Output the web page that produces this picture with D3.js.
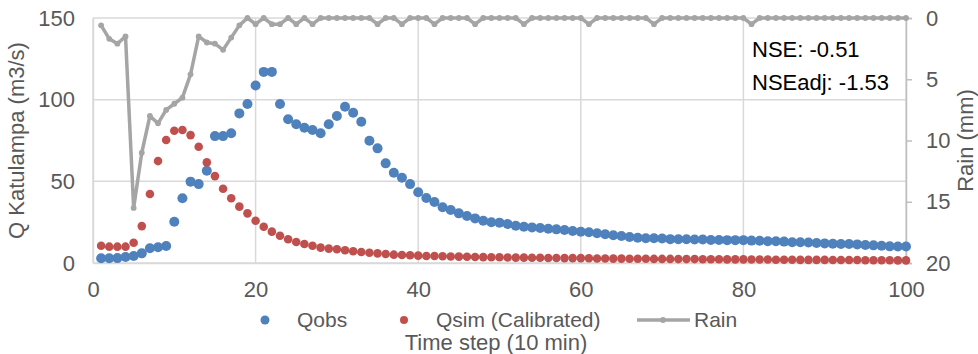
<!DOCTYPE html>
<html>
<head>
<meta charset="utf-8">
<script src="https://cdn.jsdelivr.net/npm/d3@7"></script>
<style>
  body { margin: 0; background: #fff; }
  text { font-family: "Liberation Sans", Arial, sans-serif; }
</style>
</head>
<body>
<div id="chart"></div>
<script>
let width = 978,
    height = 354;
let margin = {top: 18, right: 72, bottom: 91, left: 93};

// time steps (10 min)
let steps = d3.range(1, 101);

// observed discharge (m3/s)
let qobs = [2.9, 2.9, 3.0, 3.7, 4.3, 5.9, 9.0, 9.6, 10.4, 25.3,
    39.6, 49.8, 48.3, 56.5, 77.7, 77.7, 79.4, 91.6, 97.3, 108.7,
    117, 117, 97.3, 88, 84.9, 82.8, 81.4, 79.4, 84.9, 90,
    95.7, 92, 86.5, 74.9, 70.2, 61, 55.3, 52.2, 48.3, 43.3,
    39.8, 37.3, 34.1, 32.4, 30.4, 28.8, 27.3, 25.9, 24.9, 24.7,
    23.9, 22.8, 22.2, 21.8, 21.4, 21.0, 20.6, 20.2, 19.6, 19.2,
    18.8, 18.2, 17.6, 17.0, 16.5, 15.9, 15.5, 15.1, 15.1, 15.0,
    14.6, 14.5, 14.5, 14.4, 14.4, 14.1, 14.1, 14.0, 14.0, 14.0,
    13.7, 13.6, 13.3, 13.3, 13.1, 12.7, 12.7, 12.5, 12.2, 12.0,
    11.8, 11.6, 11.6, 11.4, 11.0, 10.8, 10.6, 10.2, 10.1, 10.1];

// simulated discharge, calibrated (m3/s)
let qsim = [10.6, 10, 10, 10, 12.4, 22.6, 42.2, 62.4, 75.3, 81,
    81.4, 78.3, 71.2, 61.6, 53.2, 45.5, 39.6, 34.5, 30.4, 25.9,
    22.2, 19.2, 16.7, 14.5, 12.9, 11.6, 10.6, 9.4, 8.8, 8.4,
    7.8, 7.2, 6.7, 6.3, 5.9, 5.5, 5.1, 4.9, 4.7, 4.5,
    4.3, 4.3, 4.1, 4.0, 3.9, 3.8, 3.7, 3.6, 3.5, 3.5,
    3.4, 3.3, 3.3, 3.2, 3.2, 3.1, 3.1, 3.0, 3.0, 3.0,
    2.9, 2.8, 2.8, 2.7, 2.7, 2.6, 2.6, 2.6, 2.5, 2.5,
    2.5, 2.4, 2.4, 2.4, 2.3, 2.3, 2.3, 2.2, 2.2, 2.2,
    2.1, 2.1, 2.1, 2.0, 2.0, 2.0, 1.9, 1.9, 1.9, 1.9,
    1.8, 1.8, 1.8, 1.8, 1.7, 1.7, 1.7, 1.7, 1.6, 1.6];

// rain (mm), secondary axis reversed
let rain = [0.6, 1.7, 2.1, 1.5, 15.5, 11.0, 8.0, 8.6, 7.5, 7.0,
    6.5, 4.6, 1.5, 2.0, 2.1, 2.6, 1.6, 0.6, 0, 0.5,
    0, 0.5, 0.5, 0, 0.5, 0, 0.5, 0, 0, 0,
    0, 0, 0, 0, 0.5, 0, 0, 0.5, 0, 0,
    0, 0.5, 0, 0, 0, 0, 0.5, 0, 0, 0,
    0, 0, 0.5, 0, 0, 0, 0, 0, 0, 0,
    0.5, 0, 0, 0, 0, 0, 0, 0, 0.5, 0,
    0, 0, 0, 0, 0, 0, 0, 0, 0, 0,
    0.5, 0, 0, 0, 0, 0, 0, 0, 0, 0,
    0, 0, 0, 0, 0, 0, 0, 0, 0, 0];

let xTicks = [0, 20, 40, 60, 80, 100];
let yTicks = [0, 50, 100, 150];
let rainTicks = [0, 5, 10, 15, 20];
let nseLines = ["NSE: -0.51", "NSEadj: -1.53"];

let blue = '#4F81BD', red = '#C0504D', grey = '#A5A5A5';
let textCol = '#595959', gridCol = '#D9D9D9';

let svg = d3.select("#chart")
    .append("svg")
    .attr("width", width)
    .attr("height", height);

let x = d3.scaleLinear().domain([0, 100]).range([margin.left, width - margin.right]);
let y = d3.scaleLinear().domain([0, 150]).range([height - margin.bottom, margin.top]);
let yRain = d3.scaleLinear().domain([0, 20]).range([margin.top, height - margin.bottom]);

//gridlines
let grid = svg.append("g");
grid.selectAll(".hg")
    .data(yTicks)
    .enter().append("line")
    .attr("x1", x(0)).attr("x2", x(100))
    .attr("y1", d => y(d)).attr("y2", d => y(d))
    .style("stroke", gridCol).style("stroke-width", 1.5);
grid.selectAll(".vg")
    .data(xTicks)
    .enter().append("line")
    .attr("y1", y(0)).attr("y2", y(150))
    .attr("x1", d => x(d)).attr("x2", d => x(d))
    .style("stroke", gridCol).style("stroke-width", 1.5);

//x axis
let xAxis = svg.append("g")
    .attr("transform", "translate(0," + y(0) + ")")
    .call(d3.axisBottom(x).tickValues(xTicks).tickSize(0).tickPadding(18));
//left axis
let yAxis = svg.append("g")
    .attr("transform", "translate(" + x(0) + ",0)")
    .call(d3.axisLeft(y).tickValues(yTicks).tickSize(0).tickPadding(18));
//right axis (rain)
let rAxis = svg.append("g")
    .attr("transform", "translate(" + x(100) + ",0)")
    .call(d3.axisRight(yRain).tickValues(rainTicks).tickSize(6).tickPadding(14));

[xAxis, yAxis, rAxis].forEach(function(a){
    a.select(".domain").style("stroke", gridCol).style("stroke-width", 1.5);
    a.selectAll(".tick line").style("stroke", gridCol).style("stroke-width", 1.5);
    a.selectAll(".tick text")
        .style("font-size", "22px")
        .style("fill", textCol);
});
rAxis.select(".domain").style("stroke", "#BFBFBF");
rAxis.selectAll(".tick line").style("stroke", "#BFBFBF");

//rain line
let rainLine = d3.line()
    .x((d, i) => x(steps[i]))
    .y(d => yRain(d));
svg.append("path")
    .datum(rain)
    .attr("d", rainLine)
    .style("fill", "none")
    .style("stroke", grey)
    .style("stroke-width", 3.5)
    .style("stroke-linejoin", "round");
svg.append("g").selectAll("circle")
    .data(rain)
    .enter().append("circle")
    .attr("cx", (d, i) => x(steps[i]))
    .attr("cy", d => yRain(d))
    .attr("r", 2.9)
    .style("fill", grey);

//qobs points
svg.append("g").selectAll("circle")
    .data(qobs)
    .enter().append("circle")
    .attr("cx", (d, i) => x(steps[i]))
    .attr("cy", d => y(d))
    .attr("r", 5)
    .style("fill", blue);

//qsim points
svg.append("g").selectAll("circle")
    .data(qsim)
    .enter().append("circle")
    .attr("cx", (d, i) => x(steps[i]))
    .attr("cy", d => y(d))
    .attr("r", 4.3)
    .style("fill", red);

//NSE text
svg.append("g").selectAll("text")
    .data(nseLines)
    .enter().append("text")
    .attr("x", 752)
    .attr("y", (d, i) => 57 + i * 33)
    .style("font-size", "22px")
    .style("fill", "#000")
    .text(d => d);

//axis titles
svg.append("text")
    .attr("transform", "translate(24," + (y(75)) + ") rotate(-90)")
    .attr("text-anchor", "middle")
    .style("font-size", "22px")
    .style("fill", textCol)
    .text("Q Katulampa (m3/s)");
svg.append("text")
    .attr("transform", "translate(973," + (yRain(10)) + ") rotate(-90)")
    .attr("text-anchor", "middle")
    .style("font-size", "22px")
    .style("fill", textCol)
    .text("Rain (mm)");
svg.append("text")
    .attr("x", 496)
    .attr("y", 350)
    .attr("text-anchor", "middle")
    .style("font-size", "22px")
    .style("fill", textCol)
    .text("Time step (10 min)");

//legend
let leg = svg.append("g");
leg.append("circle").attr("cx", 265).attr("cy", 320).attr("r", 4.5).style("fill", blue);
leg.append("text").attr("x", 297).attr("y", 327).text("Qobs");
leg.append("circle").attr("cx", 404).attr("cy", 320).attr("r", 4).style("fill", red);
leg.append("text").attr("x", 436).attr("y", 327).text("Qsim (Calibrated)");
leg.append("line").attr("x1", 637).attr("x2", 690).attr("y1", 320).attr("y2", 320)
    .style("stroke", grey).style("stroke-width", 3.5);
leg.append("circle").attr("cx", 663).attr("cy", 320).attr("r", 2.9).style("fill", grey);
leg.append("text").attr("x", 694).attr("y", 327).text("Rain");
leg.selectAll("text").style("font-size", "21px").style("fill", textCol);
</script>
</body>
</html>
